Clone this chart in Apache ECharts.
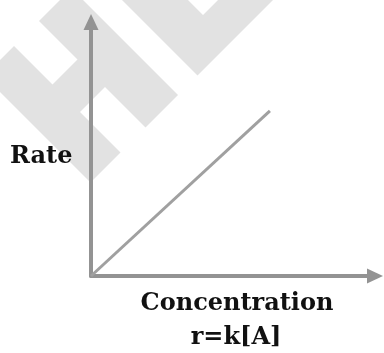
<!DOCTYPE html>
<html>
<head>
<meta charset="utf-8">
<script src="https://cdn.jsdelivr.net/npm/echarts@6/dist/echarts.min.js"></script>
<style>
  html, body { margin: 0; padding: 0; background: #fff; }
  #main { width: 384px; height: 353px; }
</style>
</head>
<body>
<div id="main"></div>
<script>
// data: straight line through the origin, r = k[A]
var concentration = [0, 63];
var rate = [0, 65];

var xTitle = 'Concentration';
var formulaText = 'r=k[A]';
var yTitle = 'Rate';

var axisColor = '#939393';
var lineColor = '#a0a0a0';
var markColor = '#e2e2e2'; // watermark grey
var labelFont = 'bold 24px "DejaVu Serif"';

var chart = echarts.init(document.getElementById('main'), null, { renderer: 'canvas' });

var points = [];
for (var i = 0; i < concentration.length; i++) {
  points.push([concentration[i], rate[i]]);
}

var option = {
  backgroundColor: '#ffffff',
  animation: false,
  grid: { left: 91, right: 9, top: 22, bottom: 77 },
  xAxis: {
    type: 'value',
    min: 0,
    max: 100,
    axisLine: {
      show: true,
      symbol: ['none', 'triangle'],
      symbolSize: [15, 16],
      lineStyle: { color: axisColor, width: 4 }
    },
    axisTick: { show: false },
    axisLabel: { show: false },
    splitLine: { show: false }
  },
  yAxis: {
    type: 'value',
    min: 0,
    max: 100,
    axisLine: {
      show: true,
      symbol: ['none', 'triangle'],
      symbolSize: [15, 16],
      lineStyle: { color: axisColor, width: 4 }
    },
    axisTick: { show: false },
    axisLabel: { show: false },
    splitLine: { show: false }
  },
  series: [{
    type: 'line',
    data: points,
    showSymbol: false,
    lineStyle: { color: lineColor, width: 3 },
    z: 3
  }],
  graphic: [
    // "HL" watermark, rotated
    {
      type: 'polygon', z: -10, silent: true,
      shape: { points: [[-16, 76], [90.5, 182.5], [120.5, 152.5], [80, 112], [105, 87], [145.5, 127.5],
        [178, 95], [71.5, -11.5], [39, 21], [77.5, 59.5], [52.5, 84.5], [14, 46]] },
      style: { fill: markColor }
    },
    {
      type: 'polygon', z: -10, silent: true,
      shape: { points: [[61, -61], [197.5, 75.5], [386.5, -113.5], [359, -141], [203, 15], [94, -94]] },
      style: { fill: markColor }
    },
    {
      type: 'text', z: 100,
      style: { text: yTitle, x: 10, y: 145, font: labelFont, fill: '#111', textAlign: 'left', textVerticalAlign: 'top' }
    },
    {
      type: 'text', z: 100,
      style: { text: xTitle, x: 237, y: 292, font: labelFont, fill: '#111', textAlign: 'center', textVerticalAlign: 'top' }
    },
    {
      type: 'text', z: 100,
      style: { text: formulaText, x: 236, y: 326, font: labelFont, fill: '#111', textAlign: 'center', textVerticalAlign: 'top' }
    }
  ]
};

chart.setOption(option);
</script>
</body>
</html>
